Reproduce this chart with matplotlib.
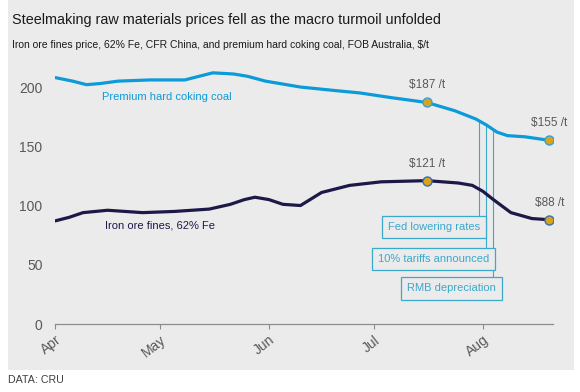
import datetime as dt
import numpy as np
import matplotlib
matplotlib.use("Agg")
import matplotlib.pyplot as plt
import matplotlib.dates as mdates
from matplotlib.patches import Rectangle

plt.rcParams["font.family"] = ["Liberation Sans", "DejaVu Sans"]

# premium hard coking coal, FOB Australia, $/t
coal_dates = ["2019-04-01", "2019-04-06", "2019-04-10", "2019-04-14", "2019-04-19",
              "2019-04-28", "2019-05-08", "2019-05-12", "2019-05-16", "2019-05-22",
              "2019-05-26", "2019-05-31", "2019-06-10", "2019-06-20", "2019-06-27",
              "2019-07-06", "2019-07-16", "2019-07-24", "2019-07-30", "2019-08-02",
              "2019-08-05", "2019-08-08", "2019-08-13", "2019-08-20"]
coal_vals = [208, 205, 202, 203, 205, 206, 206, 209, 212, 211,
             209, 205, 200, 197, 195, 191, 187, 180, 173, 168,
             162, 159, 158, 155]

# iron ore fines 62% Fe, CFR China, $/t
iron_dates = ["2019-04-01", "2019-04-05", "2019-04-09", "2019-04-16", "2019-04-26",
              "2019-05-05", "2019-05-15", "2019-05-21", "2019-05-25", "2019-05-28",
              "2019-06-01", "2019-06-05", "2019-06-10", "2019-06-16", "2019-06-24",
              "2019-07-03", "2019-07-16", "2019-07-25", "2019-07-29", "2019-08-01",
              "2019-08-04", "2019-08-09", "2019-08-15", "2019-08-20"]
iron_vals = [87, 90, 94, 96, 94, 95, 97, 101, 105, 107,
             105, 101, 100, 111, 117, 120, 121, 119, 117, 112,
             105, 94, 89, 88]

# highlighted points
mark_dates = ["2019-07-16", "2019-08-20"]
coal_marks = [187, 155]
iron_marks = [121, 88]

# events
event_labels = ["Fed lowering rates", "10% tariffs announced", "RMB depreciation"]
event_dates = ["2019-07-31", "2019-08-02", "2019-08-04"]

COAL = "#0b9bd9"
IRON = "#1c1948"
GOLD = "#d6a51c"
EVENT = "#3aa9cc"
GREY_TXT = "#595959"
BG = "#ebebeb"


def to_dates(xs):
    return [dt.datetime.strptime(s, "%Y-%m-%d") for s in xs]


cd = to_dates(coal_dates)
idt = to_dates(iron_dates)
md = to_dates(mark_dates)
ed = to_dates(event_dates)

fig = plt.figure(figsize=(5.8, 3.92), dpi=100)
fig.patch.set_facecolor("white")
fig.patches.append(Rectangle((8 / 580, 1 - 370 / 392), 566 / 580, 370 / 392,
                             transform=fig.transFigure, facecolor=BG,
                             edgecolor="none", zorder=-10))

ax = fig.add_axes([55 / 580, 68 / 392, 498 / 580, 272.5 / 392])
ax.set_facecolor("none")

ax.plot(cd, coal_vals, color=COAL, lw=2.3, solid_capstyle="round",
        solid_joinstyle="round", zorder=3)
ax.plot(idt, iron_vals, color=IRON, lw=2.3, solid_capstyle="round",
        solid_joinstyle="round", zorder=3)

for d, v in zip(md, coal_marks):
    ax.plot(d, v, "o", ms=6.5, mfc=GOLD, mec="#3c9fd6", mew=1, zorder=5)
    ax.annotate(f"${v} /t", (d, v), xytext=(0, 8), textcoords="offset points",
                ha="center", va="bottom", fontsize=8.5, color=GREY_TXT)
for d, v in zip(md, iron_marks):
    ax.plot(d, v, "o", ms=6.5, mfc=GOLD, mec="#3c6fb0", mew=1, zorder=5)
    ax.annotate(f"${v} /t", (d, v), xytext=(0, 8), textcoords="offset points",
                ha="center", va="bottom", fontsize=8.5, color=GREY_TXT)

# event call-outs
coal_num = mdates.date2num(cd)
box_tops = [91, 64, 39]
box_centers = to_dates(["2019-07-18", "2019-07-18", "2019-07-23"])
box_mid = [82, 55, 30]
for lab, d, top, cx, cy in zip(event_labels, ed, box_tops, box_centers, box_mid):
    yv = np.interp(mdates.date2num(d), coal_num, coal_vals)
    ax.vlines(d, top, yv, color=EVENT, lw=0.8, zorder=2)
    ax.text(cx, cy, lab, ha="center", va="center", fontsize=8, color=EVENT,
            bbox=dict(boxstyle="square,pad=0.55", fc=BG, ec=EVENT, lw=0.9),
            zorder=4)

ax.text(to_dates(["2019-05-03"])[0], 192, "Premium hard coking coal",
        ha="center", va="center", fontsize=8, color=COAL)
ax.text(to_dates(["2019-05-01"])[0], 83.5, "Iron ore fines, 62% Fe",
        ha="center", va="center", fontsize=8, color=IRON)

ax.set_xlim(dt.datetime(2019, 4, 1), dt.datetime(2019, 8, 21))
ax.set_ylim(0, 230)
ax.set_yticks([0, 50, 100, 150, 200])
ax.xaxis.set_major_locator(mdates.MonthLocator())
ax.xaxis.set_major_formatter(mdates.DateFormatter("%b"))
plt.setp(ax.get_xticklabels(), rotation=38, ha="right", rotation_mode="anchor")

for s in ["top", "right", "left"]:
    ax.spines[s].set_visible(False)
ax.spines["bottom"].set_color("#8c8c8c")
ax.spines["bottom"].set_linewidth(0.9)
ax.tick_params(axis="y", length=0, pad=9, labelsize=10, labelcolor=GREY_TXT)
ax.tick_params(axis="x", length=3.5, width=0.8, color="#8c8c8c", pad=3,
               labelsize=10, labelcolor=GREY_TXT)

fig.text(12 / 580, 1 - 20 / 392,
         "Steelmaking raw materials prices fell as the macro turmoil unfolded",
         ha="left", va="center", fontsize=10.4, color="#1a1a1a")
fig.text(12 / 580, 1 - 45 / 392,
         "Iron ore fines price, 62% Fe, CFR China, and premium hard coking coal, FOB Australia, $/t",
         ha="left", va="center", fontsize=7.5, color="#1a1a1a")
fig.text(8 / 580, 1 - 380 / 392, "DATA: CRU", ha="left", va="center",
         fontsize=7.7, color="#404040")

fig.savefig("out.png", dpi=100)
